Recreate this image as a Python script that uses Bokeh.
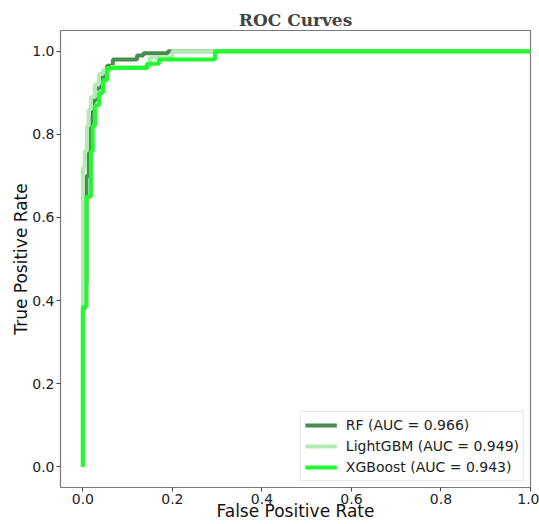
from bokeh.plotting import figure
from bokeh.models import Range1d, Legend, LegendItem, FixedTicker, NumeralTickFormatter
from bokeh.embed import file_html
from bokeh.resources import INLINE

# ROC data
rf_fpr = [0, 0, 0.004, 0.004, 0.008, 0.008, 0.013, 0.013, 0.018, 0.018, 0.022, 0.022,
          0.027, 0.027, 0.036, 0.036, 0.045, 0.045, 0.054, 0.054, 0.067, 0.067,
          0.121, 0.121, 0.135, 0.135, 0.19, 0.19, 1.0]
rf_tpr = [0, 0.38, 0.38, 0.44, 0.44, 0.70, 0.70, 0.76, 0.76, 0.84, 0.84, 0.88,
          0.88, 0.91, 0.91, 0.93, 0.93, 0.95, 0.95, 0.965, 0.965, 0.98,
          0.98, 0.99, 0.99, 0.995, 0.995, 1.0, 1.0]

lgb_fpr = [0, 0, 0.004, 0.004, 0.009, 0.009, 0.013, 0.013, 0.018, 0.018, 0.027, 0.027,
           0.036, 0.036, 0.045, 0.045, 0.063, 0.063, 0.15, 0.15, 0.2, 0.2, 1.0]
lgb_tpr = [0, 0.72, 0.72, 0.76, 0.76, 0.82, 0.82, 0.86, 0.86, 0.89, 0.89, 0.92,
           0.92, 0.945, 0.945, 0.955, 0.955, 0.962, 0.962, 0.985, 0.985, 1.0, 1.0]

xgb_fpr = [0, 0, 0.008, 0.008, 0.018, 0.018, 0.022, 0.022, 0.027, 0.027, 0.036, 0.036,
           0.045, 0.045, 0.054, 0.054, 0.143, 0.143, 0.17, 0.17, 0.295, 0.295, 1.0]
xgb_tpr = [0, 0.385, 0.385, 0.65, 0.65, 0.76, 0.76, 0.82, 0.82, 0.87, 0.87, 0.90,
           0.90, 0.93, 0.93, 0.96, 0.96, 0.97, 0.97, 0.98, 0.98, 1.0, 1.0]

labels = ["RF (AUC = 0.966)", "LightGBM (AUC = 0.949)", "XGBoost (AUC = 0.943)"]
ticks = [0.0, 0.2, 0.4, 0.6, 0.8, 1.0]

p = figure(width=539, height=524, output_backend="svg", toolbar_location=None,
           x_range=Range1d(-0.05, 1.0), y_range=Range1d(-0.05, 1.05),
           min_border_left=60, min_border_right=9, min_border_top=30, min_border_bottom=37)

p.title.text = "ROC Curves"
p.title.align = "center"
p.title.text_font = "DejaVu Serif"
p.title.text_font_style = "bold"
p.title.text_font_size = "17px"
p.title.standoff = 1

p.xgrid.visible = False
p.ygrid.visible = False
p.outline_line_color = "#7a7a7a"
p.outline_line_width = 1.2

for ax in (p.xaxis[0], p.yaxis[0]):
    ax.ticker = FixedTicker(ticks=ticks)
    ax.formatter = NumeralTickFormatter(format="0.0")
    ax.axis_line_color = None
    ax.major_tick_in = 0
    ax.major_tick_out = 4
    ax.minor_tick_in = 0
    ax.minor_tick_out = 0
    ax.major_tick_line_color = "#444444"
    ax.major_label_text_font = "DejaVu Sans"
    ax.major_label_text_font_size = "14px"
    ax.major_label_text_color = "#222222"
    ax.major_label_standoff = 2
    ax.axis_label_text_font = "DejaVu Sans"
    ax.axis_label_text_font_size = "17px"
    ax.axis_label_text_font_style = "normal"
    ax.axis_label_text_color = "#111111"
    ax.axis_label_standoff = -2

p.xaxis[0].major_label_standoff = 2
p.xaxis[0].axis_label_standoff = -6

p.xaxis.axis_label = "False Positive Rate"
p.yaxis.axis_label = "True Positive Rate"

r1 = p.line(rf_fpr, rf_tpr, line_color="#4a8c50", line_width=4)
r2 = p.line(lgb_fpr, lgb_tpr, line_color="#b3e9b3", line_width=4)
r3 = p.line(xgb_fpr, xgb_tpr, line_color="#22fa30", line_width=4)

legend = Legend(items=[LegendItem(label=labels[0], renderers=[r1]),
                       LegendItem(label=labels[1], renderers=[r2]),
                       LegendItem(label=labels[2], renderers=[r3])],
                location="bottom_right")
legend.margin = 6
legend.padding = 4
legend.spacing = 3
legend.glyph_width = 32
legend.glyph_height = 18
legend.label_height = 18
legend.label_standoff = 9
legend.label_text_font = "DejaVu Sans"
legend.label_text_font_size = "14px"
legend.label_text_color = "#222222"
legend.border_line_color = "#d0d0d0"
legend.border_line_width = 1
legend.background_fill_alpha = 0.85
p.add_layout(legend)

open("out.html", "w").write(file_html(p, INLINE))
